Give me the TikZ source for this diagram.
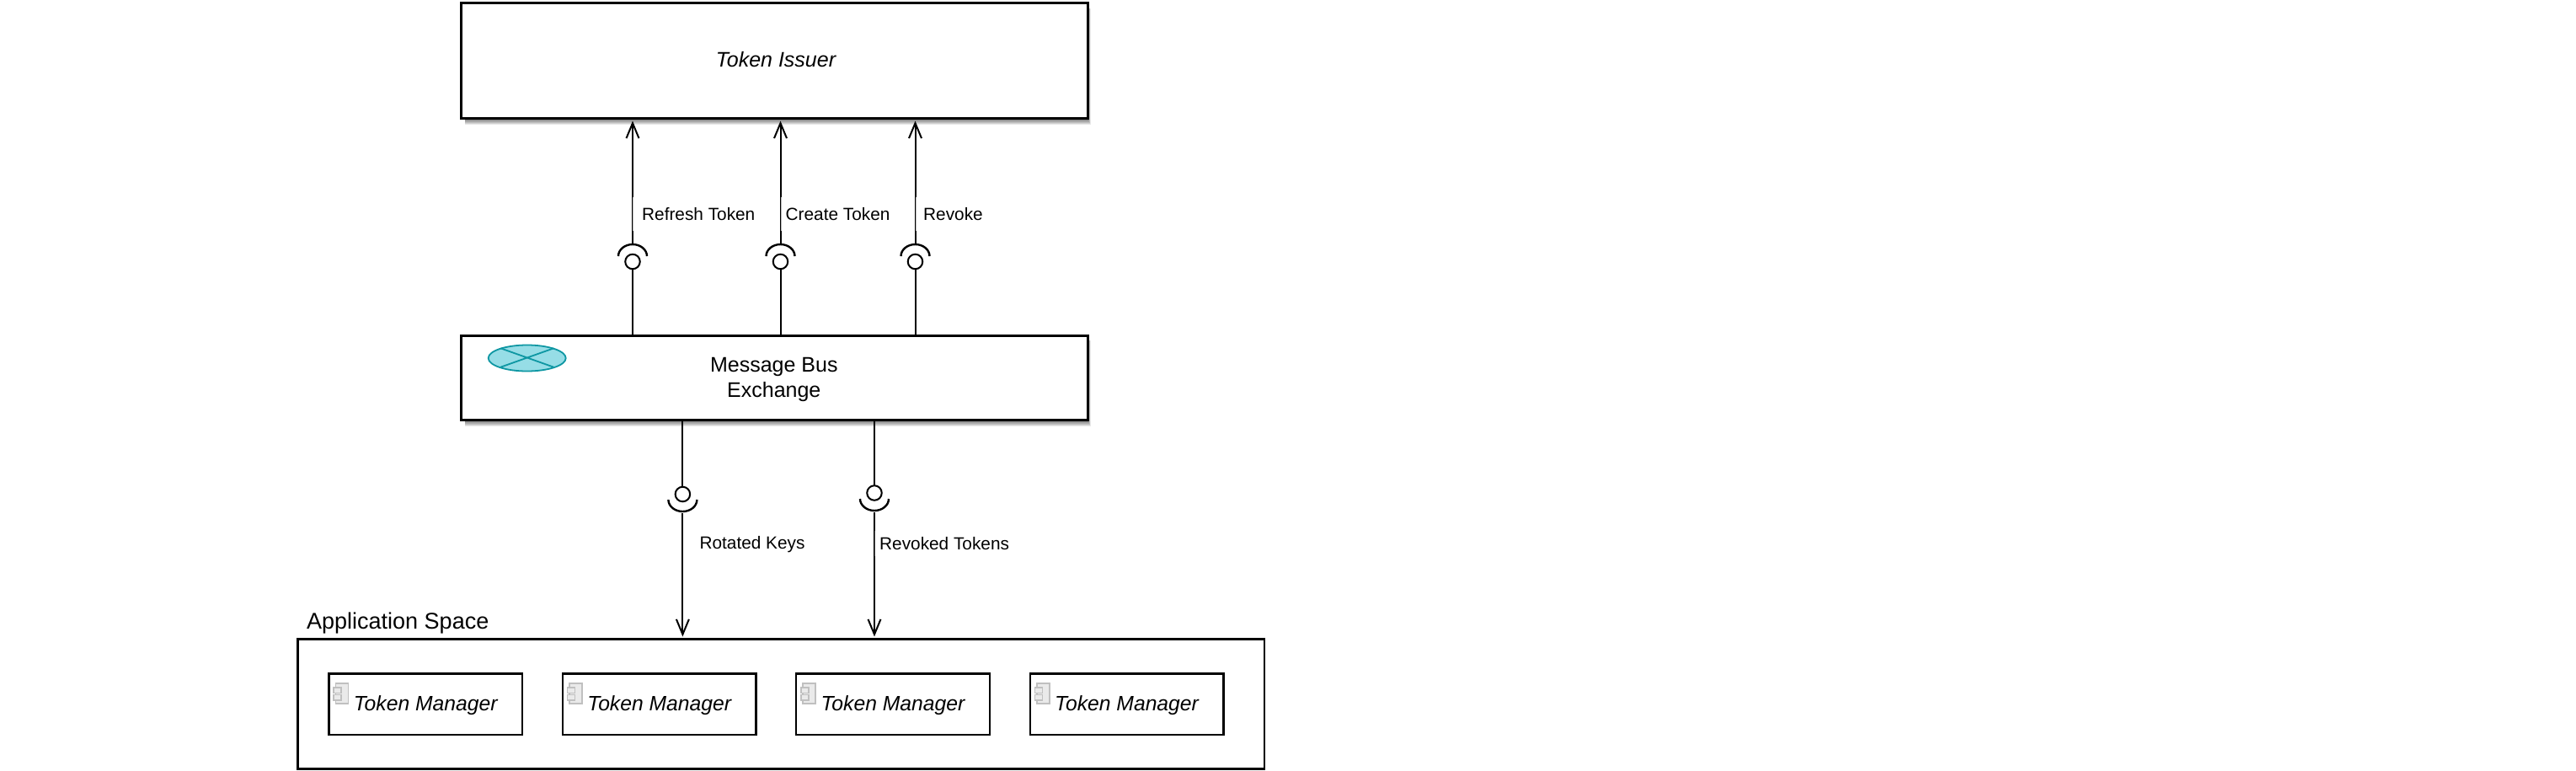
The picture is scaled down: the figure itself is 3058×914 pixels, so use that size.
\documentclass[tikz,border=0pt]{standalone}
\usepackage{fontspec}
\setmainfont{Liberation Sans}
\usetikzlibrary{arrows.meta,calc,shapes.geometric}
\definecolor{teal1}{HTML}{0E97A3}
\definecolor{teal2}{HTML}{96DDE6}
\definecolor{icong}{HTML}{C0C0C0}
\definecolor{iconf}{HTML}{EAEAEA}
\tikzset{
  x=1pt,y=-1pt,
  box/.style={draw=black,fill=white,line width=2.6pt,rectangle,inner sep=0pt,outer sep=0pt,anchor=north west},
  conn/.style={draw=black,line width=2pt},
  flow/.style={conn,-{Straight Barb[length=18pt,width=15pt,line width=2pt]},shorten >=3pt},
  ball/.style={circle,draw=black,line width=2pt,minimum size=17.5pt,inner sep=0pt,outer sep=0pt,fill=white},
  lab/.style={anchor=west,fill=white,fill opacity=.72,text opacity=1,inner ysep=0pt,minimum height=40pt,font=\fontsize{20.8}{24}\selectfont},
  tm/.style={box,minimum width=229.6pt,minimum height=72.4pt,line width=2.4pt},
  tmtext/.style={anchor=west,inner sep=0pt,font=\fontsize{24.7}{28}\itshape\selectfont},
  socketarc/.pic={\draw[line width=2.4pt,line cap=butt]
     (-17,14) .. controls (-17,6.3) and (-9.4,0) .. (0,0) .. controls (9.4,0) and (17,6.3) .. (17,14);},
  icomain/.style={draw=icong,fill=iconf,line width=1.6pt},
}
\begin{document}
\begin{tikzpicture}
\useasboundingbox (0,0) rectangle (3058,914);
\fill[white] (0,0) rectangle (3058,914);
% soft shadows
\foreach \d in {1,...,8}{
  \fill[black,opacity=.09] (552,10) rectangle ({1291+\d*.45},{140+\d});
  \fill[black,opacity=.09] (552,404) rectangle ({1291+\d*.45},{498+\d});
}
% boxes
\node[box,minimum width=744pt,minimum height=137pt] (iss) at (547.5,3.5) {};
\node[font=\fontsize{25}{28}\itshape\selectfont,inner sep=0pt] (isstext) at (921,71) {Token Issuer};
\node[box,minimum width=744pt,minimum height=100pt] (bus) at (547.5,398.5) {};
\node[font=\fontsize{25}{30}\selectfont,align=center,inner sep=0pt] (bustext) at (918.8,450.5) {Message Bus\\Exchange};
\node[ellipse,draw=teal1,fill=teal2,line width=1.8pt,minimum width=92pt,minimum height=31pt,inner sep=0pt] (exc) at (625.7,425) {};
\draw[teal1,line width=1.8pt] (594.3,413.3) -- (657.3,435.7) (594.3,435.7) -- (657.3,413.3);
\node[box,minimum width=1147.5pt,minimum height=154pt] (app) at (353.5,758.5) {};
\node[anchor=west,inner sep=0pt,font=\fontsize{27}{32}\selectfont] (apptext) at (364,740) {Application Space};
% token managers
\foreach \n/\bx in {1/390.5,2/668,3/945.2,4/1222.8}{
  \node[tm] (tm\n) at (\bx,799.5) {};
  \draw[icomain] ($(\bx,811)+(8,0)$) rectangle ($(\bx,835)+(23,0)$);
  \draw[icomain] ($(\bx,816)+(5.5,0)$) rectangle ($(\bx,822.5)+(14.5,0)$);
  \draw[icomain] ($(\bx,824.5)+(5.5,0)$) rectangle ($(\bx,831)+(14.5,0)$);
  \node[tmtext] (tmt\n) at ($(\bx,837)+(29.2,0)$) {Token Manager};
}
% upward interfaces
\foreach \n/\lx in {1/751,2/926.5,3/1086.5}{
  \node[ball] (b\n) at (\lx,310.5) {};
  \coordinate (s\n) at (\lx,290);
  \pic at (s\n) {socketarc};
  \draw[conn] (bus.north -| b\n) -- (b\n);
  \draw[flow] (s\n) -- (iss.south -| s\n);
}
% downward interfaces
\foreach \n/\lx/\by/\sy in {4/810.4/586.5/609,5/1038/585/608}{
  \node[ball] (b\n) at (\lx,\by) {};
  \coordinate (s\n) at (\lx,\sy);
  \pic[yscale=-1] at ($(s\n)+(0,-2)$) {socketarc};
  \draw[conn] (bus.south -| b\n) -- (b\n);
  \draw[flow] (s\n) -- (app.north -| s\n);
}
% labels
\node[lab,inner xsep=11pt] (l1) at (751,254) {Refresh Token};
\node[lab,inner xsep=6pt] (l2) at (926.5,254) {Create Token};
\node[lab,inner xsep=9.5pt] (l3) at (1086.5,254) {Revoke};
\node[lab,inner xsep=20pt,minimum height=30pt] (l4) at (810.4,646) {Rotated Keys};
\node[lab,inner xsep=6pt,minimum height=30pt,fill opacity=.3] (l5) at (1038,645) {Revoked Tokens};
\end{tikzpicture}
\end{document}
